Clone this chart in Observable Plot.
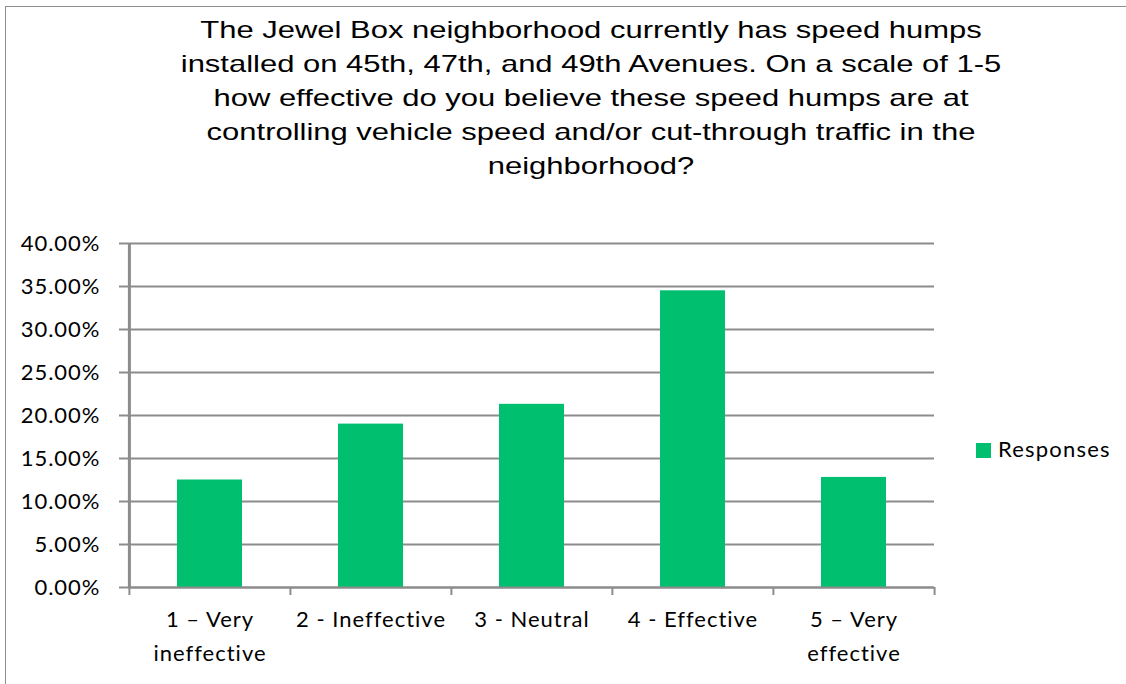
<!DOCTYPE html>
<html><head><meta charset="utf-8">
<script src="https://cdn.jsdelivr.net/npm/d3@7"></script>
<script src="https://cdn.jsdelivr.net/npm/@observablehq/plot@0.6"></script>
<style>
body{margin:0;background:#fff;}
#wrap{position:relative;width:1126px;height:684px;overflow:hidden;background:#fff;}
#box{position:absolute;left:5px;top:6px;width:1200px;height:800px;border:1.5px solid #8f8f8f;}
#title{position:absolute;left:156px;width:870px;top:13px;text-align:center;font-family:"Liberation Sans",Arial,sans-serif;font-size:24px;line-height:34px;color:#000;transform:scaleX(1.29);transform-origin:50% 0;}
#chart{position:absolute;left:0;top:200px;}
#legsq{position:absolute;left:976px;top:443px;width:15px;height:15px;}
#legtx{position:absolute;left:998px;top:435px;font-family:Lato,sans-serif;font-size:22px;letter-spacing:1.2px;color:#000;white-space:nowrap;}
</style>
</head><body>
<div id="wrap">
  <div id="box"></div>
  <div id="title"></div>
  <div id="chart"></div>
  <div id="legsq"></div>
  <div id="legtx"></div>
</div>
<script>
const titleLines = [
  "The Jewel Box neighborhood currently has speed humps",
  "installed on 45th, 47th, and 49th Avenues. On a scale of 1-5",
  "how effective do you believe these speed humps are at",
  "controlling vehicle speed and/or cut-through traffic in the",
  "neighborhood?"
];
const categories = ["1 – Very\nineffective", "2 - Ineffective", "3 - Neutral", "4 - Effective", "5 – Very\neffective"];
const responses = [0.125, 0.19, 0.213, 0.345, 0.128];
const yTicks = [0, 0.05, 0.10, 0.15, 0.20, 0.25, 0.30, 0.35, 0.40];
const seriesName = "Responses";
const barColor = "#00bf6f";
const lineColor = "#8c8c8c";

const data = categories.map((c, i) => ({category: c, value: responses[i]}));

document.getElementById("title").innerHTML = titleLines.join("<br>");
document.getElementById("legsq").style.background = barColor;
document.getElementById("legtx").textContent = seriesName;

const W = 1126, H = 484, mL = 128, mR = 192, mT = 43, mB = 97;
const step = (W - mL - mR) / categories.length;
const font = "Lato, sans-serif";

const chart = Plot.plot({
  width: W, height: H,
  marginLeft: mL, marginRight: mR, marginTop: mT, marginBottom: mB,
  style: {fontFamily: font, background: "transparent", letterSpacing: "1px"},
  x: {type: "band", domain: categories, paddingInner: 0.597, paddingOuter: 0.2985, axis: null},
  y: {domain: [0, 0.4], axis: null},
  marks: [
    Plot.gridY(yTicks, {stroke: lineColor, strokeOpacity: 1, strokeWidth: 2}),
    Plot.barY(data, {x: "category", y: "value", fill: barColor}),
    Plot.ruleY([0], {stroke: lineColor, strokeWidth: 2}),
    Plot.ruleX([categories[0]], {dx: -step / 2, stroke: lineColor, strokeWidth: 3}),
    Plot.axisY({ticks: yTicks, tickSize: 9, tickPadding: 19, tickFormat: d => (d * 100).toFixed(2) + "%",
      stroke: lineColor, strokeWidth: 2, fill: "#000", fontSize: 22, fontFamily: font, label: null}),
    Plot.axisX(categories, {tickSize: 8, fill: "none", dx: -step / 2, stroke: lineColor, strokeWidth: 2, label: null}),
    Plot.axisX([categories[categories.length - 1]], {tickSize: 8, fill: "none", dx: step / 2, stroke: lineColor, strokeWidth: 2, label: null}),
    Plot.axisX({tickSize: 0, tickPadding: 15, fill: "#000", fontSize: 22, fontFamily: font, lineHeight: 1.55, label: null})
  ]
});
document.getElementById("chart").appendChild(chart);
</script>
</body></html>
